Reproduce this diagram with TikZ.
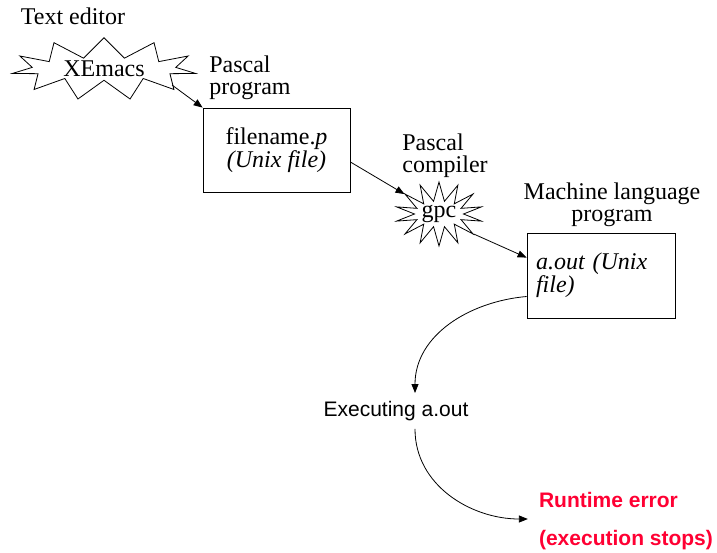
\documentclass[tikz,border=0pt]{standalone}
\usepackage{fontspec}
\setmainfont{Liberation Serif}
\setsansfont{Liberation Sans}
\usetikzlibrary{shapes.symbols,arrows.meta}
\definecolor{errred}{RGB}{255,0,51}
\tikzset{
  txt/.style={font=\fontsize{24}{22}\selectfont, align=left, inner sep=0pt},
  filebox/.style={draw, line width=0.8pt, font=\fontsize{24}{21}\selectfont},
  burst/.style={draw, line width=0.8pt, starburst, random starburst=0, font=\fontsize{24}{20}\selectfont, inner sep=0pt},
  flow/.style={-{Triangle[length=9pt,width=7pt]}, line width=0.8pt}
}
\begin{document}
\begin{tikzpicture}[x=1pt,y=-1pt]
   \useasboundingbox (0,0) rectangle (717,553);

   \node[txt] (editor) at (73,16) {Text editor};
   \node[burst, starburst points=11, starburst point height=20pt,
         minimum width=185pt, minimum height=46pt] (xemacs) at (104,69) {XEmacs};

   \node[txt] (pascalprog) at (250,78) {Pascal\\program};
   \node[filebox, minimum width=147pt, minimum height=84pt, align=center] (srcfile) at (276.5,150)
        {filename.\textit{p}\\\textit{(Unix file)}};
   %%%%%%%%%%
   \node[txt] (compiler) at (445,156) {Pascal\\compiler};
   \node[burst, starburst points=14, starburst point height=19pt,
         minimum width=76pt, minimum height=64pt] (gpc) at (439,214) {gpc};

   \node[txt, align=center] (machprog) at (612,205) {Machine language\\program};
   \node[filebox, minimum width=148pt, minimum height=85pt, text width=130pt, inner sep=9pt,
         align=left] (aout) at (601,275.5) {\textit{a.out (Unix}\\\textit{file)}};
   %%%%%%%%%%
   \node[txt, font=\sffamily\fontsize{21}{21}\selectfont] (exec) at (396,411) {Executing a.out};
   \node[txt, text=errred, font=\sffamily\bfseries\fontsize{21}{38}\selectfont] (rterror) at (626,521)
        {Runtime error\\(execution stops)};

   \draw[flow] ([xshift=68pt,yshift=-16pt]xemacs.center) -- (srcfile.north west);
   \draw[flow] ([yshift=-12pt]srcfile.east) -- (gpc.150);
   \draw[flow] (gpc.-30) -- ([yshift=-25pt]aout.north west);
   \draw[flow] ([yshift=-21pt]aout.west) to[out=185,in=90] ([xshift=19pt,yshift=8pt]exec.north);
   \draw[flow] ([xshift=19pt,yshift=-8pt]exec.south) to[out=-90,in=180] ([xshift=-11pt,yshift=2pt]rterror.west);
\end{tikzpicture}
\end{document}
